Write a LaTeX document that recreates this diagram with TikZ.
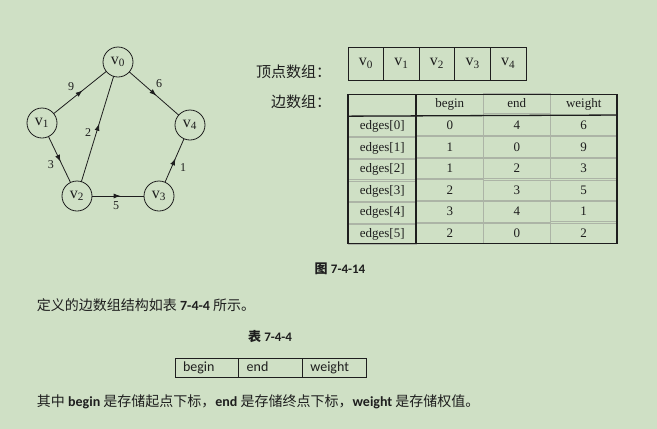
\documentclass[tikz,border=0pt]{standalone}
\usepackage{fontspec}
\setmainfont{Liberation Serif}
\newfontfamily\cjk{Noto Sans CJK SC}
\newfontfamily\calib{Carlito}
\usepackage{tikz}
\usetikzlibrary{positioning}
\usetikzlibrary{matrix}
\usetikzlibrary{arrows.meta}
\usetikzlibrary{decorations.markings}
\definecolor{paper}{RGB}{207,224,197}
\definecolor{ink}{RGB}{30,30,30}
\definecolor{rule}{RGB}{172,180,166}

\begin{document}
\begin{tikzpicture}[x=1pt, y=-1pt, color=ink,
    every node/.style = {inner sep=0pt, outer sep=0pt},
    vertex/.style = {circle, draw, line width=0.8pt, minimum size=30pt, font=\fontsize{16}{16}\selectfont},
    arc/.style = {line width=0.8pt, postaction={decorate},
      decoration={markings, mark=at position .55 with {\arrow{Latex[length=7pt,width=5pt]}}}},
    weight/.style = {font=\fontsize{12}{12}\selectfont},
    cell/.style = {draw, line width=0.8pt, minimum width=35.6pt, minimum height=33pt, font=\fontsize{16}{16}\selectfont},
    tcell/.style = {draw=rule, line width=0.5pt, minimum width=67pt, minimum height=20.4pt, font=\fontsize{13}{13}\selectfont},
    scell/.style = {draw, line width=0.8pt, text width=47.7pt, inner xsep=8pt, minimum height=19pt,
      text height=10pt, text depth=3pt, align=left, font=\calib\fontsize{14}{14}\selectfont},
    say/.style = {anchor=west, font=\cjk\fontsize{14}{14}\selectfont}
    ]
    \fill[paper] (0,0) rectangle (657,429);
    \useasboundingbox (0,0) rectangle (657,429);

    % graph
    \node[vertex] (v0) at (118,62) {v\textsubscript{0}};
    \node[vertex] (v1) at (42,123) {v\textsubscript{1}};
    \node[vertex] (v4) at (190,125) {v\textsubscript{4}};
    \node[vertex] (v2) at (77,196) {v\textsubscript{2}};
    \node[vertex] (v3) at (159,196) {v\textsubscript{3}};
    \draw[arc] (v1) -- (v0);
    \draw[arc] (v0) -- (v4);
    \draw[arc] (v1) -- (v2);
    \draw[arc] (v2) -- (v0);
    \draw[arc] (v2) -- (v3);
    \draw[arc] (v3) -- (v4);
    \node[weight] (w9) at (71,87) {9};
    \node[weight] (w6) at (159,84) {6};
    \node[weight] (w3) at (51,165) {3};
    \node[weight] (w2) at (88,133) {2};
    \node[weight] (w5) at (116,206) {5};
    \node[weight] (w1) at (183,168) {1};

    % vertex array
    \node[anchor=east, font=\cjk\fontsize{15}{15}\selectfont] (vlabel) at (331,72) {顶点数组：};
    \node[cell, anchor=north west] (a0) at (348,47) {v\textsubscript{0}};
    \node[cell] (a1) [right=0pt of a0] {v\textsubscript{1}};
    \node[cell] (a2) [right=0pt of a1] {v\textsubscript{2}};
    \node[cell] (a3) [right=0pt of a2] {v\textsubscript{3}};
    \node[cell] (a4) [right=0pt of a3] {v\textsubscript{4}};

    % edge array
    \node[anchor=east, font=\cjk\fontsize{15}{15}\selectfont] (elabel) at (331,102) {边数组：};
    \matrix (edges) [matrix of nodes, anchor=north west, column sep=-0.5pt, row sep=-0.5pt,
      nodes={tcell}, column 1/.style={nodes={minimum width=68pt}}] at (348,93) {
                & begin & end & weight \\
      edges[0]  & 0     & 4   & 6      \\
      edges[1]  & 1     & 0   & 9      \\
      edges[2]  & 1     & 2   & 3      \\
      edges[3]  & 2     & 3   & 5      \\
      edges[4]  & 3     & 4   & 1      \\
      edges[5]  & 2     & 0   & 2      \\
    };
    \draw[line width=1.6pt] (edges-2-1.north west |- edges-1-2.north) rectangle (edges-7-4.south east);
    \draw[line width=1.6pt] (edges-1-2.north west) -- (edges-7-2.south west);
    \draw[line width=1.3pt] (edges-2-1.north west) -- (edges-2-4.north east);

    \node[font=\fontsize{13}{13}\selectfont] (fig) at (340,269) {{\cjk\bfseries 图} {\calib\bfseries 7-4-14}};

    % text below
    \node[say] (line1) at (37,305) {定义的边数组结构如表 {\calib\bfseries 7-4-4} 所示。};
    \node[font=\fontsize{13}{13}\selectfont] (tab) at (270,337) {{\cjk\bfseries 表} {\calib\bfseries 7-4-4}};
    \node[scell, anchor=north west] (s1) at (175,358) {begin};
    \node[scell] (s2) [right=0pt of s1] {end};
    \node[scell] (s3) [right=0pt of s2] {weight};
    \node[say] (line2) at (37,402) {其中 {\calib\bfseries begin} 是存储起点下标，{\calib\bfseries end} 是存储终点下标，{\calib\bfseries weight} 是存储权值。};
\end{tikzpicture}
\end{document}
